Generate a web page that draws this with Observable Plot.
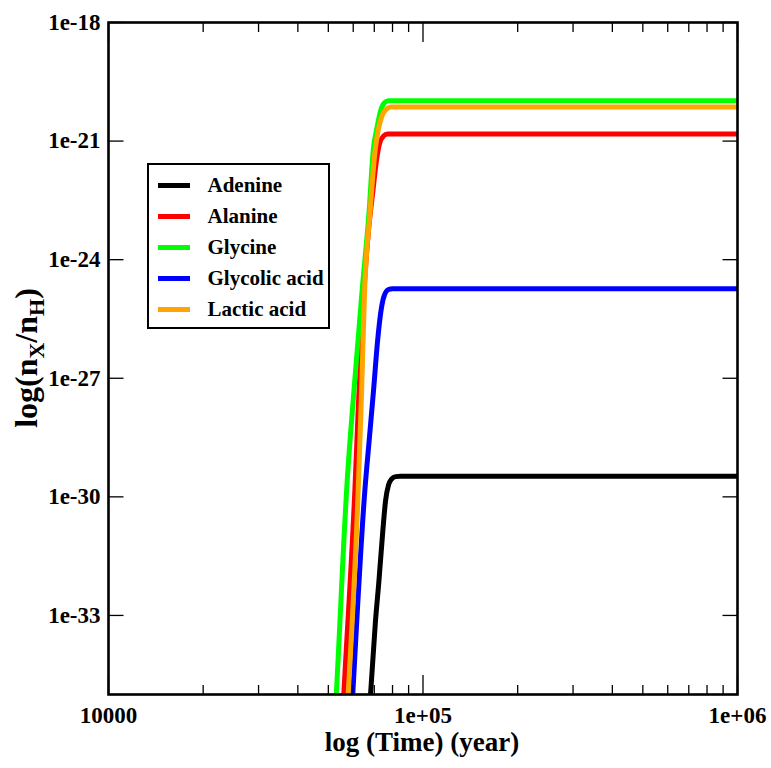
<!DOCTYPE html>
<html><head><meta charset="utf-8">
<script src="https://cdn.jsdelivr.net/npm/d3@7"></script>
<script src="https://cdn.jsdelivr.net/npm/@observablehq/plot@0.6"></script>
<style>
html,body{margin:0;padding:0;background:#fff;}
#wrap{position:relative;width:771px;height:768px;font-family:"Liberation Serif","Times New Roman",Times,"DejaVu Serif",serif;font-weight:bold;}
#wrap svg text{font-family:"Liberation Serif","Times New Roman",Times,"DejaVu Serif",serif;}
#legend{position:absolute;left:147px;top:163px;width:183px;height:166px;box-sizing:border-box;border:2.5px solid #000;background:#fff;padding-top:5.5px;}
.row{display:flex;align-items:center;height:30.8px;}
.sw{margin-left:8.5px;width:32px;height:5px;}
.lb{margin-left:18px;font-size:21px;line-height:1;color:#000;white-space:nowrap;}
</style></head>
<body><div id="wrap"><div id="chart"></div><div id="legend"></div></div>
<script>
const seriesNames = ["Adenine", "Alanine", "Glycine", "Glycolic acid", "Lactic acid"];
const seriesColors = ["#000000", "#ff0000", "#00ff00", "#0000ff", "#ffa500"];

const adenineTime  = [6.66e4, 6.81e4, 7.06e4, 7.24e4, 7.45e4, 7.60e4, 7.77e4, 7.94e4, 8.18e4, 8.48e4, 1e6];
const adenineValue = [4.9e-37, 1.0e-35, 7.1e-34, 7.2e-33, 1.35e-31, 7.8e-31, 2.0e-30, 2.8e-30, 3.25e-30, 3.3e-30, 3.3e-30];

const alanineTime  = [5.49e4, 5.60e4, 6.07e4, 6.26e4, 6.49e4, 6.71e4, 6.93e4, 7.11e4, 7.27e4, 7.49e4, 7.71e4, 1e6];
const alanineValue = [4.9e-37, 1.0e-35, 1.38e-30, 4.8e-28, 1.6e-25, 5.4e-24, 5.5e-23, 3.16e-22, 8.5e-22, 1.35e-21, 1.51e-21, 1.51e-21];

const glycineTime  = [5.19e4, 5.30e4, 5.74e4, 6.03e4, 6.40e4, 6.73e4, 6.96e4, 7.11e4, 7.33e4, 7.54e4, 7.77e4, 1e6];
const glycineValue = [4.9e-37, 1.0e-35, 2.5e-30, 4.8e-28, 1.6e-25, 1.44e-23, 6.8e-22, 1.82e-21, 5.8e-21, 9.3e-21, 1.05e-20, 1.05e-20];

const glycolicTime  = [5.86e4, 5.98e4, 6.53e4, 6.74e4, 6.96e4, 7.17e4, 7.35e4, 7.52e4, 7.77e4, 8.00e4, 1e6];
const glycolicValue = [4.9e-37, 1.0e-35, 1.38e-30, 2.57e-29, 4.8e-28, 8.7e-27, 5.0e-26, 1.2e-25, 1.76e-25, 1.85e-25, 1.85e-25];

const lacticTime  = [5.65e4, 5.78e4, 6.22e4, 6.38e4, 6.52e4, 6.78e4, 7.04e4, 7.22e4, 7.43e4, 7.66e4, 7.88e4, 1e6];
const lacticValue = [4.9e-37, 1.0e-35, 1.38e-30, 4.8e-28, 1.6e-25, 1.44e-23, 5.6e-22, 2.04e-21, 4.6e-21, 6.5e-21, 7.3e-21, 7.3e-21];

const xTickValues = [1e4, 1e5, 1e6];
const xTickLabels = ["10000", "1e+05", "1e+06"];
const xMinorTicks = [2e4, 3e4, 4e4, 5e4, 6e4, 7e4, 8e4, 9e4, 2e5, 3e5, 4e5, 5e5, 6e5, 7e5, 8e5, 9e5];
const yTickValues = [1e-18, 1e-21, 1e-24, 1e-27, 1e-30, 1e-33];
const yTickLabels = ["1e-18", "1e-21", "1e-24", "1e-27", "1e-30", "1e-33"];

const seriesTimes = [adenineTime, alanineTime, glycineTime, glycolicTime, lacticTime];
const seriesValues = [adenineValue, alanineValue, glycineValue, glycolicValue, lacticValue];

const xLabelMap = new Map(xTickValues.map((d, i) => [d, xTickLabels[i]]));
const yLabelMap = new Map(yTickValues.map((d, i) => [d, yTickLabels[i]]));

const lineMarks = seriesNames.map((name, k) => {
  const rows = seriesTimes[k].map((t, i) => ({name, t, v: seriesValues[k][i]}));
  return Plot.line(rows, {x: "t", y: "v", stroke: seriesColors[k], strokeWidth: 5, curve: "monotone-x", clip: true});
});

const FONT = "'Liberation Serif', 'Times New Roman', Times, 'DejaVu Serif', serif";
const blank = () => "";
const svg = Plot.plot({
  width: 771, height: 768,
  marginLeft: 108, marginRight: 34, marginTop: 22, marginBottom: 74,
  x: {type: "log", domain: [1e4, 1e6]},
  y: {type: "log", domain: [1e-35, 1e-18]},
  style: {fontFamily: FONT, fontWeight: "bold", background: "white", color: "black"},
  marks: [
    ...lineMarks,
    Plot.axisX(xTickValues, {anchor: "bottom", tickSize: -19, strokeWidth: 1.3, tickFormat: blank, label: null}),
    Plot.axisX(xMinorTicks, {anchor: "bottom", tickSize: -9, strokeWidth: 1.3, tickFormat: blank, label: null}),
    Plot.axisX(xTickValues, {anchor: "top", tickSize: -19, strokeWidth: 1.3, tickFormat: blank, label: null}),
    Plot.axisX(xMinorTicks, {anchor: "top", tickSize: -9, strokeWidth: 1.3, tickFormat: blank, label: null}),
    Plot.axisX(xTickValues, {anchor: "bottom", tickSize: 0, tickPadding: 12, fontSize: 23, tickFormat: d => xLabelMap.get(d), label: null}),
    Plot.axisY(yTickValues, {anchor: "left", tickSize: -15.5, strokeWidth: 1.3, tickFormat: blank, label: null}),
    Plot.axisY(yTickValues, {anchor: "right", tickSize: -15.5, strokeWidth: 1.3, tickFormat: blank, label: null}),
    Plot.axisY(yTickValues, {anchor: "left", tickSize: 0, tickPadding: 8, fontSize: 23, tickFormat: d => yLabelMap.get(d), label: null}),
    Plot.frame({stroke: "black", strokeWidth: 2.6})
  ]
});

const s = d3.select(svg);
s.append("text")
  .attr("x", 422).attr("y", 751)
  .attr("text-anchor", "middle")
  .attr("font-size", 27).attr("font-weight", "bold").attr("fill", "black")
  .text("log (Time) (year)");
const yt = s.append("text")
  .attr("transform", "translate(37,358) rotate(-90)")
  .attr("text-anchor", "middle")
  .attr("font-size", 32).attr("font-weight", "bold").attr("fill", "black");
yt.append("tspan").text("log(n");
yt.append("tspan").attr("font-size", 22).attr("dy", 7).text("X");
yt.append("tspan").attr("dy", -7).text("/n");
yt.append("tspan").attr("font-size", 22).attr("dy", 7).text("H");
yt.append("tspan").attr("dy", -7).text(")");

document.getElementById("chart").appendChild(svg);

const legend = d3.select("#legend");
seriesNames.forEach((name, k) => {
  const row = legend.append("div").attr("class", "row");
  row.append("div").attr("class", "sw").style("background", seriesColors[k]);
  row.append("div").attr("class", "lb").text(name);
});
</script>
</body></html>
